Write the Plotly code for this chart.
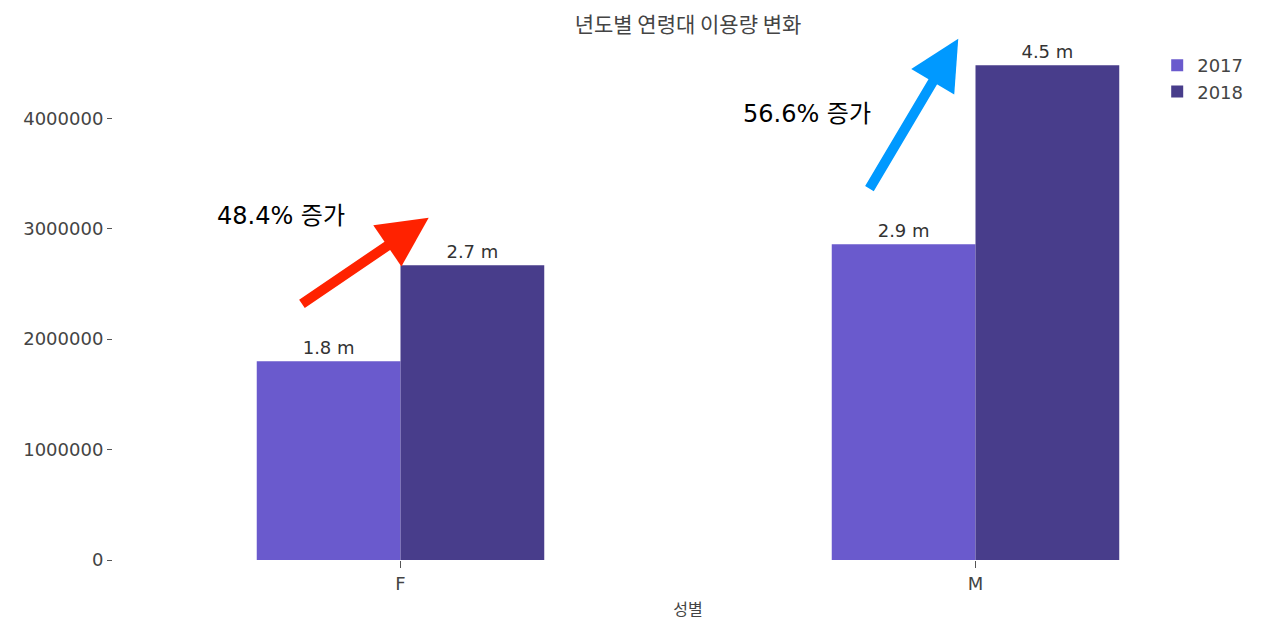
import plotly.graph_objects as go

categories = ["F", "M"]
years = ["2017", "2018"]
values_2017 = [1800000, 2860000]
values_2018 = [2670000, 4480000]
tick_vals = [0, 1000000, 2000000, 3000000, 4000000]
tick_text = ["0", "1000000", "2000000", "3000000", "4000000"]
increase_text = ["48.4% 증가", "56.6% 증가"]

colors = {"2017": "#6A5ACD", "2018": "#483D8B"}
FONT = "DejaVu Sans, Noto Sans CJK KR, sans-serif"
KFONT = "Noto Sans CJK KR, sans-serif"

fig = go.Figure()
for yr, vals in zip(years, [values_2017, values_2018]):
    fig.add_trace(go.Bar(
        name=yr, x=categories, y=vals,
        marker=dict(color=colors[yr], line=dict(width=0)),
        text=[f"{v/1e6:.1f} m" for v in vals],
        textposition="outside", cliponaxis=False,
        textfont=dict(size=18, color="#333333", family=FONT),
    ))

fig.update_layout(
    width=1280, height=630,
    barmode="group", bargap=0.5, bargroupgap=0,
    plot_bgcolor="white", paper_bgcolor="white",
    margin=dict(l=105, r=25, t=22, b=78),
    font=dict(family=FONT, color="#444444", size=18),
    title=dict(text="년도별 연령대 이용량 변화", x=0.5, xref="paper",
               y=0.974, yref="container", xanchor="center", yanchor="middle",
               font=dict(size=21, color="#444444", family=KFONT)),
    legend=dict(x=0.908, y=0.968, xanchor="left", yanchor="top",
                bgcolor="rgba(0,0,0,0)", font=dict(size=18, color="#444444"),
                itemwidth=30),
    xaxis=dict(title=dict(text="성별", font=dict(size=16, color="#444444", family=KFONT), standoff=11),
               showgrid=False, showline=False, zeroline=False,
               ticks="outside", ticklen=7, tickcolor="#555555",
               tickfont=dict(size=18, color="#444444"), range=[-0.5, 1.5]),
    yaxis=dict(showgrid=False, showline=False, zeroline=False,
               range=[0, 4800000], tickvals=tick_vals, ticktext=tick_text,
               ticks="outside", ticklen=5, tickcolor="#555555",
               tickfont=dict(size=18, color="#444444")),
)

# annotations: arrows and texts
fig.add_annotation(x=0.049, y=3100000, ax=-0.174, ay=2310000,
                   xref="x", yref="y", axref="x", ayref="y",
                   showarrow=True, arrowhead=2, arrowsize=1.0, arrowwidth=10,
                   arrowcolor="#FF2200", text="")
fig.add_annotation(x=0.970, y=4720000, ax=0.814, ay=3350000,
                   xref="x", yref="y", axref="x", ayref="y",
                   showarrow=True, arrowhead=2, arrowsize=1.0, arrowwidth=10,
                   arrowcolor="#0099FF", text="")
fig.add_annotation(x=-0.207, y=3115000, xref="x", yref="y", showarrow=False,
                   text=increase_text[0], font=dict(size=24, color="black", family=FONT))
fig.add_annotation(x=0.707, y=4035000, xref="x", yref="y", showarrow=False,
                   text=increase_text[1], font=dict(size=24, color="black", family=FONT))

fig.write_html("out.html")
